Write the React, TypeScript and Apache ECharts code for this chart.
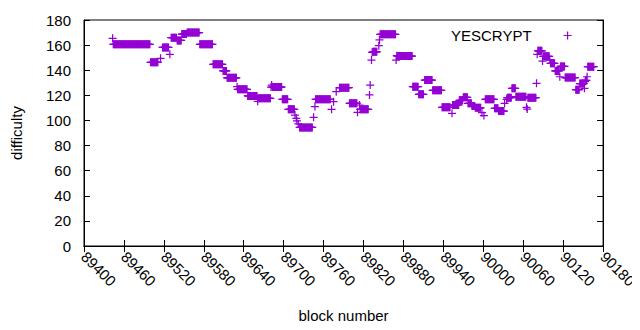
import React, { useEffect, useRef } from "react";
import * as echarts from "echarts";

// Runs of consecutive blocks sharing the same difficulty (single blocks have start === end)
const runStart = [
  89443, 89444, 89500, 89515, 89518, 89529, 89531, 89540, 89547, 89555,
  89574, 89594, 89609, 89615, 89630, 89631, 89646, 89661, 89662, 89681,
  89682, 89683, 89698, 89707, 89717, 89719, 89720, 89722, 89724, 89745,
  89747, 89748, 89772, 89775, 89779, 89784, 89799, 89811, 89814, 89815,
  89829, 89830, 89832, 89833, 89834, 89843, 89844, 89845, 89869, 89870,
  89871, 89894, 89903, 89912, 89924, 89938, 89953, 89954, 89964, 89970,
  89977, 89983, 89988, 89998, 90001, 90003, 90017, 90023, 90032, 90035,
  90036, 90043, 90049, 90065, 90066, 90067, 90080, 90081, 90082, 90089,
  90090, 90100, 90101, 90108, 90115, 90116, 90123, 90139, 90145, 90152,
  90153, 90154, 90156, 90157,
];
const runEnd = [
  89443, 89499, 89511, 89515, 89527, 89529, 89539, 89546, 89554, 89573,
  89593, 89608, 89614, 89629, 89630, 89645, 89660, 89661, 89680, 89681,
  89682, 89697, 89706, 89716, 89717, 89719, 89720, 89722, 89743, 89745,
  89747, 89770, 89772, 89775, 89779, 89798, 89810, 89811, 89814, 89827,
  89829, 89830, 89832, 89833, 89840, 89843, 89844, 89868, 89869, 89870,
  89893, 89902, 89910, 89923, 89937, 89950, 89953, 89963, 89969, 89976,
  89982, 89987, 89996, 89998, 90001, 90016, 90022, 90031, 90032, 90035,
  90042, 90048, 90064, 90065, 90066, 90079, 90080, 90081, 90088, 90089,
  90099, 90100, 90107, 90114, 90115, 90122, 90138, 90144, 90151, 90152,
  90153, 90155, 90156, 90166,
];
const runDifficulty = [
  165.4, 160.6, 146.3, 149.5, 158.1, 152.7, 165.9, 163.7, 168.8, 170.0,
  160.6, 144.7, 139.4, 134.0, 126.9, 124.8, 119.5, 115.2, 117.6, 126.6,
  128.2, 126.6, 116.8, 108.9, 104.3, 101.7, 99.6, 97.2, 94.4, 102.5,
  111.1, 116.8, 108.9, 114.9, 122.9, 126.1, 113.6, 106.5, 112.3, 108.9,
  120.3, 128.2, 148.1, 154.3, 154.7, 159.5, 164.1, 168.6, 148.1, 151.6,
  151.3, 126.9, 120.8, 132.2, 124.0, 110.5, 105.7, 112.3, 116.0, 118.4,
  113.6, 111.5, 110.1, 106.2, 103.9, 116.8, 109.7, 107.5, 113.6, 116.8,
  118.1, 125.6, 118.9, 110.5, 109.1, 118.1, 129.6, 152.7, 155.5, 147.3,
  151.1, 148.1, 145.5, 139.4, 134.8, 143.0, 134.2, 124.5, 129.4, 125.6,
  131.0, 132.0, 134.8, 142.8,
];

const xTicks = { min: 89400, max: 90180, step: 60 };
const yTicks = { min: 0, max: 180, step: 20 };
const seriesName = "YESCRYPT";

const PLUS = "path://M3.8,0H5.2V3.8H9V5.2H5.2V9H3.8V5.2H0V3.8H3.8Z";
const FONT = "Liberation Sans";
const COLOR = "#9400d3";

export default function App() {
  const ref = useRef<HTMLDivElement>(null);
  useEffect(() => {
    if (!ref.current) return;
    const chart = echarts.init(ref.current, undefined, { renderer: "svg" });
    const points: number[][] = [];
    for (let i = 0; i < runStart.length; i++) {
      for (let b = runStart[i]; b <= runEnd[i]; b++) points.push([b, runDifficulty[i]]);
    }
    const textStyle = { fontFamily: FONT, fontSize: 15, color: "#000" };
    chart.setOption({
      animation: false,
      backgroundColor: "#fff",
      grid: {
        left: 84, right: 31, top: 20, bottom: 84,
        show: true, borderColor: "#000", borderWidth: 1, backgroundColor: "transparent",
      },
      legend: {
        data: [{ name: seriesName, icon: PLUS }],
        left: 446, top: 23, align: "right",
        itemWidth: 62, itemHeight: 8, symbolKeepAspect: true,
        itemStyle: { color: COLOR },
        textStyle: { ...textStyle, fontSize: 15 },
      },
      xAxis: [
        {
          type: "value", min: xTicks.min, max: xTicks.max, interval: xTicks.step,
          name: "block number", nameLocation: "middle", nameGap: 62,
          nameTextStyle: textStyle,
          axisLine: { show: true, lineStyle: { color: "#000" } },
          axisTick: { show: true, inside: true, length: 6, lineStyle: { color: "#000" } },
          axisLabel: { ...textStyle, rotate: -45, margin: 8, formatter: (v: number) => String(v) },
          splitLine: { show: false },
        },
        {
          type: "value", position: "top", min: xTicks.min, max: xTicks.max, interval: xTicks.step,
          axisLine: { show: true, lineStyle: { color: "#000" } },
          axisTick: { show: true, inside: true, length: 6, lineStyle: { color: "#000" } },
          axisLabel: { show: false },
          splitLine: { show: false },
        },
      ],
      yAxis: [
        {
          type: "value", min: yTicks.min, max: yTicks.max, interval: yTicks.step,
          name: "difficulty", nameLocation: "middle", nameGap: 60,
          nameTextStyle: textStyle,
          axisLine: { show: true, lineStyle: { color: "#000" } },
          axisTick: { show: true, inside: true, length: 6, lineStyle: { color: "#000" } },
          axisLabel: { ...textStyle, margin: 13, formatter: (v: number) => String(v) },
          splitLine: { show: false },
        },
        {
          type: "value", position: "right", min: yTicks.min, max: yTicks.max, interval: yTicks.step,
          axisLine: { show: true, lineStyle: { color: "#000" } },
          axisTick: { show: true, inside: true, length: 6, lineStyle: { color: "#000" } },
          axisLabel: { show: false },
          splitLine: { show: false },
        },
      ],
      series: [
        {
          name: seriesName,
          type: "scatter",
          symbol: PLUS,
          symbolSize: 8,
          itemStyle: { color: COLOR, opacity: 1 },
          data: points,
          large: false,
        },
      ],
    });
    return () => chart.dispose();
  }, []);
  return <div ref={ref} style={{ width: 640, height: 330, margin: -8 }} />;
}
